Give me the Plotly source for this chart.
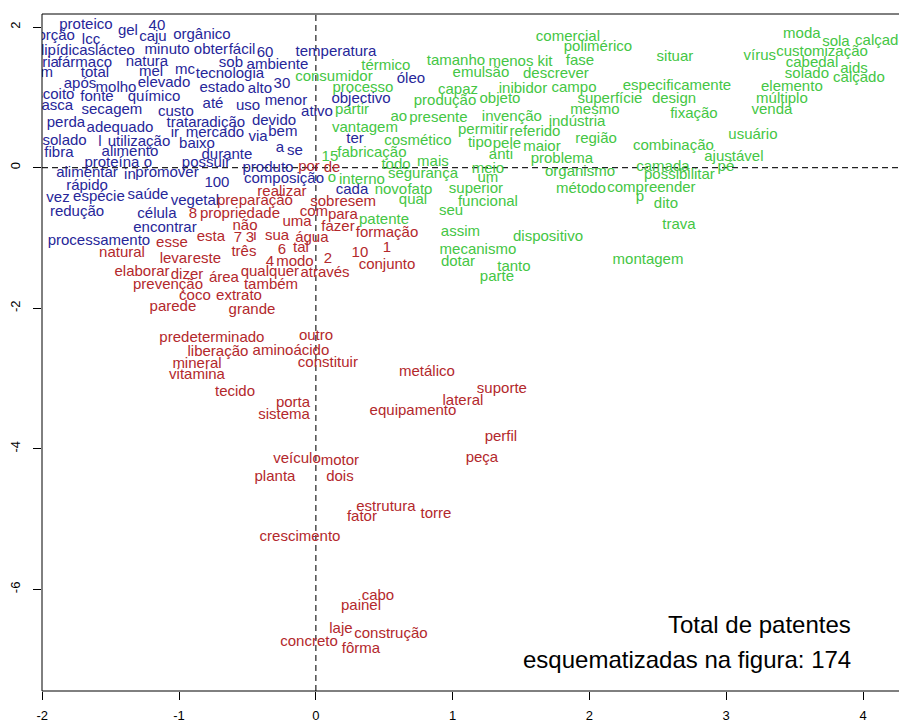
import plotly.graph_objects as go

# Correspondence-analysis word map: three clusters of terms
blue_words = ["proteico", "gel", "40", "porção", "lcc", "caju", "orgânico", "lipídicas", "lácteo", "minuto",
              "obter", "fácil", "60", "temperatura", "matéria", "fármaco", "natura", "sob", "ambiente", "origem",
              "total", "mel", "mc", "tecnologia", "após", "molho", "elevado", "estado", "alto", "30",
              "biscoito", "fonte", "químico", "até", "uso", "menor", "casca", "secagem", "custo", "perda",
              "adequado", "tratar", "adição", "devido", "ir", "mercado", "via", "bem", "ativo", "isolado",
              "l", "utilização", "baixo", "fibra", "alimento", "durante", "a", "se", "proteína", "o",
              "possuir", "produto", "alimentar", "in", "promover", "100", "composição", "rápido", "vez", "espécie",
              "saúde", "vegetal", "redução", "célula", "encontrar", "processamento", "cada", "ter", "objectivo", "óleo"]
blue_x = [-1.681, -1.374, -1.162, -1.929, -1.644, -1.191, -0.833, -1.812, -1.469, -1.088,
          -0.767, -0.540, -0.372, 0.147, -2.061, -1.688, -1.235, -0.621, -0.281, -2.090,
          -1.615, -1.205, -0.957, -0.628, -1.724, -1.461, -1.110, -0.686, -0.409, -0.248,
          -1.951, -1.600, -1.183, -0.752, -0.496, -0.219, -1.918, -1.491, -1.023, -1.827,
          -1.432, -0.964, -0.679, -0.306, -1.030, -0.738, -0.423, -0.241, 0.008, -1.849,
          -1.578, -1.293, -0.869, -1.878, -1.359, -0.650, -0.262, -0.153, -1.491, -1.227,
          -0.803, -0.350, -1.673, -1.359, -1.088, -0.723, -0.233, -1.673, -1.885, -1.586,
          -1.227, -0.884, -1.746, -1.162, -1.103, -1.586, 0.264, 0.286, 0.330, 0.695]
blue_y = [2.028, 1.942, 2.014, 1.871, 1.814, 1.857, 1.885, 1.651, 1.651, 1.672,
          1.672, 1.672, 1.629, 1.636, 1.487, 1.487, 1.501, 1.487, 1.459, 1.345,
          1.345, 1.359, 1.387, 1.331, 1.188, 1.131, 1.202, 1.131, 1.117, 1.188,
          1.032, 1.003, 1.003, 0.904, 0.875, 0.946, 0.875, 0.818, 0.790, 0.633,
          0.562, 0.633, 0.633, 0.662, 0.491, 0.491, 0.434, 0.505, 0.790, 0.377,
          0.363, 0.363, 0.334, 0.206, 0.221, 0.178, 0.277, 0.235, 0.064, 0.064,
          0.064, -0.007, -0.078, -0.107, -0.078, -0.221, -0.164, -0.263, -0.434, -0.420,
          -0.391, -0.477, -0.633, -0.662, -0.861, -1.046, -0.320, 0.406, 0.975, 1.259]

red_words = ["por", "de", "realizar", "preparação", "sobre", "sem", "8", "propriedade", "com", "para",
             "uma", "não", "fazer", "formação", "esta", "7", "3", "i", "sua", "água",
             "esse", "natural", "levar", "este", "três", "6", "tal", "2", "10", "1",
             "4", "modo", "conjunto", "qualquer", "através", "elaborar", "dizer", "área", "também", "prevenção",
             "coco", "extrato", "parede", "grande", "predeterminado", "outro", "liberação", "aminoácido", "mineral", "constituir",
             "vitamina", "metálico", "tecido", "suporte", "porta", "lateral", "sistema", "equipamento", "perfil", "veículo",
             "motor", "peça", "planta", "dois", "estrutura", "fator", "torre", "crescimento", "cabo", "painel",
             "laje", "construção", "concreto", "fôrma"]
red_x = [-0.050, 0.118, -0.248, -0.445, 0.096, 0.337, -0.898, -0.555, -0.014, 0.198,
         -0.138, -0.518, 0.162, 0.520, -0.767, -0.569, -0.482, -0.445, -0.284, -0.029,
         -1.052, -1.417, -1.023, -0.796, -0.526, -0.248, -0.109, 0.088, 0.322, 0.520,
         -0.336, -0.153, 0.520, -0.336, 0.067, -1.271, -0.942, -0.672, -0.328, -1.081,
         -0.884, -0.562, -1.045, -0.467, -0.760, 0.001, -0.716, -0.182, -0.869, 0.088,
         -0.869, 0.812, -0.591, 1.360, -0.167, 1.075, -0.233, 0.710, 1.353, -0.138,
         0.176, 1.214, -0.299, 0.176, 0.512, 0.337, 0.878, -0.116, 0.454, 0.330,
         0.183, 0.549, -0.050, 0.330]
red_y = [0.007, -0.007, -0.349, -0.477, -0.491, -0.491, -0.662, -0.662, -0.633, -0.676,
         -0.776, -0.832, -0.847, -0.932, -0.989, -1.003, -1.003, -0.975, -0.975, -1.003,
         -1.074, -1.217, -1.302, -1.302, -1.202, -1.174, -1.146, -1.302, -1.217, -1.146,
         -1.345, -1.345, -1.387, -1.487, -1.501, -1.487, -1.530, -1.572, -1.672, -1.672,
         -1.829, -1.836, -1.985, -2.028, -2.426, -2.398, -2.625, -2.611, -2.796, -2.782,
         -2.953, -2.910, -3.195, -3.152, -3.351, -3.323, -3.522, -3.465, -3.835, -4.148,
         -4.177, -4.134, -4.404, -4.404, -4.831, -4.973, -4.931, -5.258, -6.098, -6.240,
         -6.567, -6.638, -6.752, -6.852]

green_words = ["térmico", "tamanho", "consumidor", "processo", "partir", "emulsão", "menos", "kit", "comercial", "polimérico",
               "fase", "situar", "descrever", "capaz", "inibidor", "campo", "especificamente", "produção", "objeto", "superfície",
               "design", "mesmo", "ao", "presente", "invenção", "indústria", "permitir", "referido", "vantagem", "cosmético",
               "tipo", "pele", "maior", "região", "combinação", "fixação", "usuário", "ajustável", "pé", "camada",
               "possibilitar", "compreender", "p", "dito", "trava", "montagem", "anti", "problema", "todo", "mais",
               "segurança", "meio", "um", "organismo", "interno", "o", "15", "fabricação", "novo", "fato",
               "superior", "qual", "funcional", "seu", "método", "assim", "dispositivo", "mecanismo", "dotar", "tanto",
               "parte", "patente", "moda", "sola", "calçado", "vírus", "customização", "cabedal", "aids", "solado",
               "calçado", "elemento", "múltiplo", "venda"]
green_x = [0.512, 1.024, 0.132, 0.344, 0.264, 1.207, 1.426, 1.675, 1.843, 2.062,
           1.931, 2.625, 1.755, 1.039, 1.514, 1.887, 2.640, 0.944, 1.346, 2.150,
           2.618, 2.040, 0.607, 0.896, 1.433, 1.909, 1.222, 1.602, 0.359, 0.746,
           1.200, 1.397, 1.653, 2.048, 2.614, 2.764, 3.195, 3.056, 2.998, 2.537,
           2.658, 2.453, 2.369, 2.559, 2.654, 2.428, 1.353, 1.799, 0.586, 0.856,
           0.783, 1.258, 1.258, 1.931, 0.337, 0.118, 0.103, 0.410, 0.549, 0.761,
           1.170, 0.710, 1.258, 0.988, 1.938, 1.057, 1.697, 1.185, 1.039, 1.448,
           1.324, 0.498, 3.553, 3.802, 4.131, 3.246, 3.700, 3.627, 3.934, 3.590,
           3.970, 3.480, 3.407, 3.334]
green_y = [1.444, 1.515, 1.288, 1.131, 0.818, 1.345, 1.501, 1.501, 1.857, 1.715,
           1.515, 1.572, 1.331, 1.103, 1.117, 1.131, 1.160, 0.946, 0.975, 0.975,
           0.975, 0.818, 0.719, 0.704, 0.719, 0.647, 0.534, 0.505, 0.562, 0.377,
           0.349, 0.334, 0.292, 0.406, 0.306, 0.761, 0.462, 0.149, 0.007, 0.007,
           -0.107, -0.292, -0.420, -0.519, -0.818, -1.316, 0.178, 0.121, 0.036, 0.078,
           -0.092, -0.021, -0.149, -0.064, -0.178, -0.149, 0.149, 0.206, -0.320, -0.320,
           -0.306, -0.462, -0.491, -0.619, -0.306, -0.918, -0.989, -1.174, -1.345, -1.416,
           -1.558, -0.747, 1.900, 1.786, 1.800, 1.587, 1.644, 1.487, 1.402, 1.331,
           1.274, 1.146, 0.975, 0.818]

x_ticks = [-2, -1, 0, 1, 2, 3, 4]
x_tick_labels = ["-2", "-1", "0", "1", "2", "3", "4"]
y_ticks = [-6, -4, -2, 0, 2]
y_tick_labels = ["-6", "-4", "-2", "0", "2"]

note_lines = ["Total de patentes", "esquematizadas na figura: 174"]

FONT = "Liberation Sans, Arial, Helvetica, sans-serif"
groups = [
    (blue_words, blue_x, blue_y, "#262699"),
    (red_words, red_x, red_y, "#b3282c"),
    (green_words, green_x, green_y, "#44c644"),
]

fig = go.Figure()
for words, xs, ys, color in groups:
    fig.add_trace(go.Scatter(
        x=xs, y=ys, text=words, mode="text",
        textposition="middle center",
        textfont=dict(family=FONT, size=15, color=color),
        cliponaxis=True, hoverinfo="skip", showlegend=False,
    ))

line_black = dict(color="black", width=1)
dash_line = dict(color="#222222", width=1.2, dash="6px,4px")
shapes = [
    # reference lines through the origin
    dict(type="line", xref="x", yref="paper", x0=0, x1=0, y0=0, y1=1, line=dash_line, layer="below"),
    dict(type="line", xref="paper", yref="y", x0=0, x1=1, y0=0, y1=0, line=dash_line, layer="below"),
    # plot frame (left, top, bottom)
    dict(type="line", xref="paper", yref="paper", x0=0, x1=0, y0=0, y1=1, line=line_black),
    dict(type="line", xref="paper", yref="paper", x0=0, x1=1, y0=1, y1=1, line=line_black),
    dict(type="line", xref="paper", yref="paper", x0=0, x1=1, y0=0, y1=0, line=line_black),
]

annotations = [
    dict(text=note_lines[0], xref="paper", yref="paper", x=0.9463, y=0.0975,
         xanchor="right", yanchor="middle", showarrow=False,
         font=dict(family=FONT, size=24, color="black")),
    dict(text=note_lines[1], xref="paper", yref="paper", x=0.9463, y=0.0458,
         xanchor="right", yanchor="middle", showarrow=False,
         font=dict(family=FONT, size=24, color="black")),
]

fig.update_layout(
    width=899, height=727,
    margin=dict(l=42, r=0, t=14, b=36),
    paper_bgcolor="white", plot_bgcolor="white",
    shapes=shapes, annotations=annotations,
    xaxis=dict(range=[-2.002, 4.263], showgrid=False, zeroline=False, showline=False,
               tickvals=x_ticks, ticktext=x_tick_labels, ticks="outside", ticklen=8,
               tickcolor="black", tickwidth=1,
               tickfont=dict(family=FONT, size=13, color="black"), ticklabelstandoff=4),
    yaxis=dict(range=[-7.447, 2.185], showgrid=False, zeroline=False, showline=False,
               tickvals=y_ticks, ticktext=y_tick_labels, ticks="outside", ticklen=8,
               tickcolor="black", tickwidth=1, tickangle=-90,
               tickfont=dict(family=FONT, size=13, color="black"), ticklabelstandoff=8),
)

fig.write_html("out.html")
